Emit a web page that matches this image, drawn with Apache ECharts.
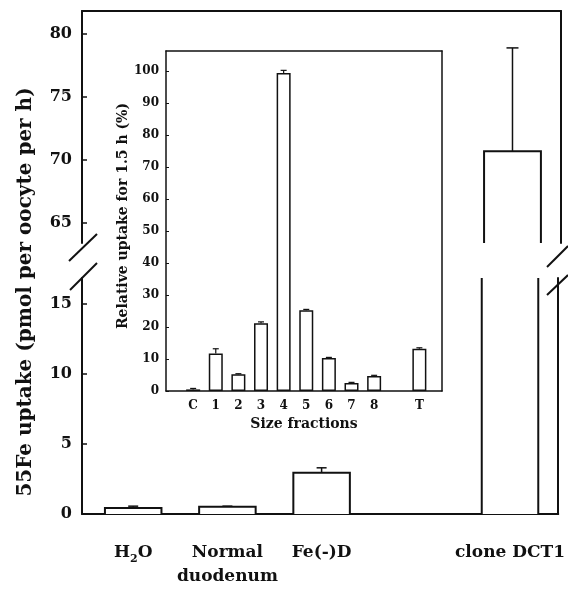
<!DOCTYPE html>
<html>
<head>
<meta charset="utf-8">
<script src="https://cdn.jsdelivr.net/npm/echarts@6/dist/echarts.min.js"></script>
<style>
  html, body { margin: 0; padding: 0; background: #fff; }
  #chart { width: 568px; height: 591px; }
</style>
</head>
<body>
<div id="chart"></div>
<script>
// Main panel: 55Fe uptake per oocyte (broken y axis)
const mainNames = ['H2O', 'Normal\nduodenum', 'Fe(-)D', 'clone DCT1'];
const mainPos = [0, 1, 2, 4];
const mainMeans = [0.42, 0.52, 2.95, 70.7];
const mainErrs = [0.14, 0.04, 0.35, 8.2];
const lowerTicks = [0, 5, 10, 15];
const upperTicks = [65, 70, 75, 80];

// Inset: relative uptake of size fractions
const fracNames = ['C', '1', '2', '3', '4', '5', '6', '7', '8', 'T'];
const fracPos = [0, 1, 2, 3, 4, 5, 6, 7, 8, 10];
const fracMeans = [0.5, 11.7, 5.2, 21.2, 99.4, 25.2, 10.3, 2.5, 4.7, 13.2];
const fracErrs = [0.3, 1.5, 0.2, 0.4, 0.8, 0.3, 0.2, 0.2, 0.2, 0.3];
const insetTicks = [0, 10, 20, 30, 40, 50, 60, 70, 80, 90, 100];

const INK = '#111';
const FONT = 'DejaVu Serif';

const chart = echarts.init(document.getElementById('chart'), null, { renderer: 'canvas' });

const mainData = mainPos.map((p, i) => [p, mainMeans[i], mainErrs[i]]);
const fracData = fracPos.map((p, i) => [p, fracMeans[i], fracErrs[i]]);

// Bar outline without a bottom edge; the top edge is dropped when the bar runs past its grid
function renderBar(params, api) {
  const r = params.coordSys;
  const x = api.value(0);
  const v = api.value(1);
  const w = api.size([0.6, 0])[0];
  const p0 = api.coord([x, 0]);
  const p1 = api.coord([x, v]);
  const yb = Math.min(p0[1], r.y + r.height);
  const yt = Math.max(p1[1], r.y);
  if (yt >= yb) return null;
  const xl = p1[0] - w / 2;
  const xr = p1[0] + w / 2;
  const line = { stroke: INK, lineWidth: 2, fill: null };
  const children = [{ type: 'rect', shape: { x: xl, y: yt, width: w, height: yb - yt }, style: { fill: '#fff' } }];
  if (p1[1] < r.y) {
    children.push({ type: 'line', shape: { x1: xl, y1: yt, x2: xl, y2: yb }, style: line });
    children.push({ type: 'line', shape: { x1: xr, y1: yt, x2: xr, y2: yb }, style: line });
  } else {
    children.push({ type: 'polyline', shape: { points: [[xl, yb], [xl, yt], [xr, yt], [xr, yb]] }, style: line });
  }
  return { type: 'group', children };
}

function makeErrRenderer(cap, lw) {
  return function (params, api) {
    const r = params.coordSys;
    const x = api.value(0);
    const m = api.value(1);
    const e = api.value(2);
    const b = api.coord([x, m]);
    const t = api.coord([x, m + e]);
    if (b[1] < r.y || b[1] > r.y + r.height) return null;
    const st = { stroke: INK, lineWidth: lw };
    return {
      type: 'group',
      children: [
        { type: 'line', shape: { x1: b[0], y1: b[1], x2: t[0], y2: t[1] }, style: st },
        { type: 'line', shape: { x1: t[0] - cap / 2, y1: t[1], x2: t[0] + cap / 2, y2: t[1] }, style: st }
      ]
    };
  };
}

function frameAxis(extra) {
  return Object.assign({
    type: 'value',
    axisLine: { show: true, onZero: false, lineStyle: { color: INK, width: 2 } },
    axisTick: { show: false },
    axisLabel: { show: false },
    splitLine: { show: false }
  }, extra);
}

const mainX = { min: -0.5435, max: 4.512 };
const insetX = { min: -1.2, max: 11 };

const option = {
  animation: false,
  backgroundColor: '#fff',
  grid: [
    { left: 82, top: 11, width: 479, height: 232 },
    { left: 82, top: 278, width: 479, height: 236 },
    { left: 166, top: 51, width: 276, height: 340 }
  ],
  xAxis: [
    frameAxis(Object.assign({ gridIndex: 0, position: 'bottom', axisLine: { show: false } }, mainX)),
    frameAxis(Object.assign({ gridIndex: 0, position: 'top' }, mainX)),
    frameAxis(Object.assign({
      gridIndex: 1, position: 'bottom',
      axisLabel: {
        show: true,
        customValues: mainPos,
        margin: 27,
        color: INK,
        fontFamily: FONT,
        fontWeight: 'bold',
        fontSize: 17,
        lineHeight: 24,
        formatter: function (val) {
          const i = mainPos.indexOf(val);
          if (i < 0) return '';
          const name = mainNames[i];
          if (name === 'H2O') return '{t|H}{s|2}{t|O}';
          return name;
        },
        rich: {
          t: { fontFamily: FONT, fontWeight: 'bold', fontSize: 17, lineHeight: 24, color: INK },
          s: { fontFamily: FONT, fontWeight: 'bold', fontSize: 11, lineHeight: 24, verticalAlign: 'bottom', color: INK }
        }
      }
    }, mainX)),
    frameAxis(Object.assign({
      gridIndex: 2, position: 'bottom',
      axisLine: { show: true, onZero: false, lineStyle: { color: INK, width: 1.5 } },
      axisLabel: {
        show: true,
        customValues: fracPos,
        margin: 9,
        color: INK,
        fontFamily: FONT,
        fontWeight: 'bold',
        fontSize: 12,
        formatter: function (val) {
          const i = fracPos.indexOf(val);
          return i < 0 ? '' : fracNames[i];
        }
      },
      name: 'Size fractions',
      nameLocation: 'middle',
      nameGap: 26,
      nameTextStyle: { color: INK, fontFamily: FONT, fontWeight: 'bold', fontSize: 14 }
    }, insetX)),
    frameAxis(Object.assign({
      gridIndex: 2, position: 'top',
      axisLine: { show: true, onZero: false, lineStyle: { color: INK, width: 1.5 } }
    }, insetX))
  ],
  yAxis: [
    frameAxis({
      gridIndex: 0, position: 'left', min: 63.41, max: 81.83,
      axisTick: { show: true, inside: true, length: 5, customValues: upperTicks, lineStyle: { color: INK, width: 1.5 } },
      axisLabel: { show: true, customValues: upperTicks, margin: 10, color: INK, fontFamily: FONT, fontWeight: 'bold', fontSize: 16 }
    }),
    frameAxis({ gridIndex: 0, position: 'right', min: 63.41, max: 81.83 }),
    frameAxis({
      gridIndex: 1, position: 'left', min: 0, max: 16.86,
      axisTick: { show: true, inside: true, length: 5, customValues: lowerTicks, lineStyle: { color: INK, width: 1.5 } },
      axisLabel: { show: true, customValues: lowerTicks, margin: 10, color: INK, fontFamily: FONT, fontWeight: 'bold', fontSize: 16 }
    }),
    frameAxis({ gridIndex: 1, position: 'right', min: 0, max: 16.86 }),
    frameAxis({
      gridIndex: 2, position: 'left', min: 0, max: 106.25,
      axisLine: { show: true, onZero: false, lineStyle: { color: INK, width: 1.5 } },
      axisTick: { show: true, inside: true, length: 3, customValues: insetTicks, lineStyle: { color: INK, width: 1 } },
      axisLabel: { show: true, customValues: insetTicks, margin: 7, color: INK, fontFamily: FONT, fontWeight: 'bold', fontSize: 12 },
      name: 'Relative uptake for 1.5 h (%)',
      nameLocation: 'middle',
      nameGap: 31,
      nameTextStyle: { color: INK, fontFamily: FONT, fontWeight: 'bold', fontSize: 14, padding: [0, 0, 0, 10] }
    }),
    frameAxis({
      gridIndex: 2, position: 'right', min: 0, max: 106.25,
      axisLine: { show: true, onZero: false, lineStyle: { color: INK, width: 1.5 } }
    })
  ],
  series: [
    { type: 'custom', xAxisIndex: 0, yAxisIndex: 0, data: mainData, renderItem: renderBar, z: 2 },
    { type: 'custom', xAxisIndex: 2, yAxisIndex: 2, data: mainData, renderItem: renderBar, z: 2 },
    { type: 'custom', xAxisIndex: 0, yAxisIndex: 0, data: mainData, renderItem: makeErrRenderer(12, 1.5), z: 3 },
    { type: 'custom', xAxisIndex: 2, yAxisIndex: 2, data: mainData, renderItem: makeErrRenderer(10, 1.5), z: 3 },
    {
      type: 'bar', xAxisIndex: 3, yAxisIndex: 4,
      data: fracData.map(d => [d[0], d[1]]),
      barWidth: 14,
      itemStyle: { color: '#fff', borderColor: INK, borderWidth: 1.5 },
      z: 2
    },
    { type: 'custom', xAxisIndex: 3, yAxisIndex: 4, data: fracData, renderItem: makeErrRenderer(6, 1.2), z: 3 }
  ],
  graphic: [
    {
      type: 'text', x: 26, y: 292, rotation: Math.PI / 2,
      style: {
        text: '55Fe uptake (pmol per oocyte per h)',
        fontFamily: FONT, fontWeight: 'bold', fontSize: 20,
        fill: INK, align: 'center', verticalAlign: 'middle'
      }
    },
    // axis-break marks
    { type: 'line', shape: { x1: 69, y1: 261, x2: 97, y2: 234 }, style: { stroke: INK, lineWidth: 2 } },
    { type: 'line', shape: { x1: 70, y1: 290, x2: 97, y2: 263 }, style: { stroke: INK, lineWidth: 2 } },
    { type: 'line', shape: { x1: 547, y1: 267, x2: 568, y2: 246 }, style: { stroke: INK, lineWidth: 2 } },
    { type: 'line', shape: { x1: 547, y1: 295, x2: 568, y2: 275 }, style: { stroke: INK, lineWidth: 2 } }
  ]
};

chart.setOption(option);
</script>
</body>
</html>
